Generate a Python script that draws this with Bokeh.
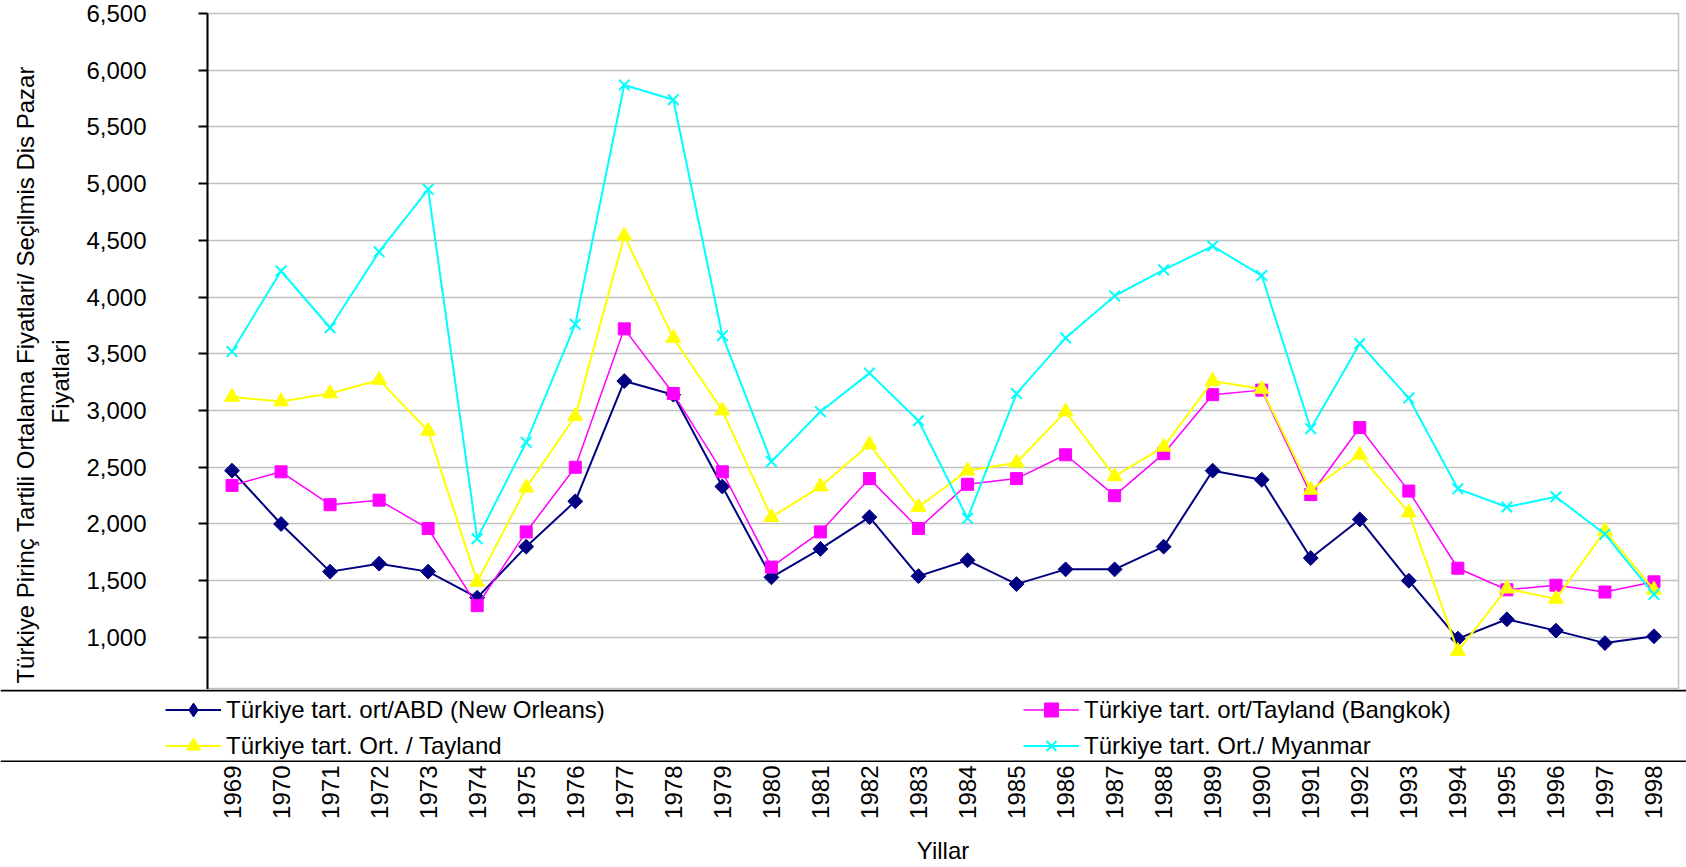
import numpy as np
from bokeh.plotting import figure
from bokeh.layouts import column
from bokeh.models import (Range1d, FactorRange, SingleIntervalTicker, NumeralTickFormatter,
                          Legend, LegendItem, Span)
from bokeh.embed import file_html
from bokeh.resources import INLINE

years = [str(y) for y in range(1969, 1999)]

abd_new_orleans = [2470, 2000, 1580, 1650, 1580, 1350, 1800, 2200, 3260, 3140,
                   2330, 1530, 1780, 2060, 1540, 1680, 1470, 1600, 1600, 1800,
                   2470, 2390, 1700, 2040, 1500, 990, 1160, 1060, 950, 1010]
tayland_bangkok = [2340, 2460, 2170, 2210, 1960, 1280, 1930, 2500, 3720, 3150,
                   2460, 1620, 1930, 2400, 1960, 2350, 2400, 2610, 2250, 2620,
                   3140, 3180, 2260, 2850, 2290, 1610, 1420, 1460, 1400, 1490]
tayland = [3120, 3080, 3150, 3270, 2820, 1490, 2320, 2950, 4540, 3640,
           3000, 2060, 2330, 2700, 2150, 2470, 2540, 2990, 2420, 2680,
           3260, 3190, 2300, 2610, 2100, 880, 1430, 1340, 1940, 1420]
myanmar = [3520, 4230, 3730, 4400, 4950, 1870, 2720, 3760, 5870, 5740,
           3660, 2550, 2990, 3330, 2910, 2050, 3150, 3640, 4010, 4240,
           4450, 4190, 2840, 3590, 3110, 2310, 2150, 2240, 1910, 1380]

series_labels = ["Türkiye tart. ort/ABD (New Orleans)",
                 "Türkiye tart. ort/Tayland (Bangkok)",
                 "Türkiye tart. Ort. / Tayland",
                 "Türkiye tart. Ort./ Myanmar"]

y_title = ("Türkiye Pirinç Tartili Ortalama Fiyatlari/ Seçilmis Dis Pazar" + "\u00a0" * 7
           + "\n" + "Fiyatlari" + "\u00a0" * 9)
x_title = "Yillar"

FONT = "Liberation Sans"
W = 1686
LEFT = 207
RIGHT = 8

styles = [
    dict(color="#000080", marker="square", legend_marker="diamond", size=10.5,
         angle=np.pi / 4, lw=2),
    dict(color="#FF00FF", marker="square", legend_marker="square", size=12, angle=0.0, lw=1.5),
    dict(color="#FFFF00", marker="triangle", legend_marker="triangle", size=15, angle=0.0, lw=2),
    dict(color="#00FFFF", marker="x", legend_marker="x", size=15, angle=0.0, lw=2),
]
series = [abd_new_orleans, tayland_bangkok, tayland, myanmar]


def draw_series(fig, for_legend=False):
    out = []
    for data, st in zip(series, styles):
        lr = fig.line(years, data, line_color=st["color"], line_width=st["lw"])
        mk = st["legend_marker"] if for_legend else st["marker"]
        if mk == "x":
            sr = fig.scatter(years, data, marker="x", size=st["size"], line_color=st["color"],
                             line_width=2)
        else:
            sr = fig.scatter(years, data, marker=mk, size=st["size"],
                             angle=0.0 if for_legend else st["angle"],
                             fill_color=st["color"], line_color=st["color"], line_width=1)
        out.append((lr, sr))
    return out


xr = FactorRange(*years)

# ---------------- main plot ----------------
p = figure(width=W, height=689, x_range=xr, y_range=Range1d(541, 6500),
           output_backend="svg", toolbar_location=None, x_axis_location=None,
           min_border_left=LEFT, min_border_right=RIGHT, min_border_top=13, min_border_bottom=0,
           background_fill_color="white", border_fill_color="white",
           outline_line_color="#c0c0c0", outline_line_width=1.5)
p.xgrid.grid_line_color = None
p.ygrid.grid_line_color = "#c0c0c0"
p.ygrid.grid_line_width = 1.5

ya = p.yaxis[0]
ya.ticker = SingleIntervalTicker(interval=500)
ya.formatter = NumeralTickFormatter(format="0,0")
ya.axis_line_color = "black"
ya.axis_line_width = 2
ya.major_tick_line_color = "black"
ya.major_tick_line_width = 2
ya.major_tick_out = 9
ya.major_tick_in = 0
ya.minor_tick_line_color = None
ya.major_label_standoff = 52
ya.major_label_text_font = FONT
ya.major_label_text_font_size = "24px"
ya.major_label_text_color = "black"
ya.axis_label = y_title
ya.axis_label_text_font = FONT
ya.axis_label_text_font_size = "24px"
ya.axis_label_text_font_style = "normal"
ya.axis_label_text_color = "black"
ya.axis_label_standoff = 9
ya.axis_label_text_line_height = 1.3

draw_series(p)

# ---------------- legend band ----------------
b = figure(width=W, height=73, x_range=FactorRange(*years), y_range=Range1d(0, 73),
           output_backend="svg", toolbar_location=None,
           x_axis_location=None, y_axis_location=None,
           min_border_left=0, min_border_right=0, min_border_top=0, min_border_bottom=0,
           background_fill_color="white", border_fill_color="white", outline_line_color=None)
b.frame_align = False
b.xgrid.grid_line_color = None
b.ygrid.grid_line_color = None
b.add_layout(Span(location=72, dimension="width", line_color="black", line_width=2))
b.add_layout(Span(location=1, dimension="width", line_color="black", line_width=2))

# legend swatches come from the same series (they lie outside this band's visible range)
rends = draw_series(b, for_legend=True)
items = [LegendItem(label=lab, renderers=list(r)) for lab, r in zip(series_labels, rends)]

legend = Legend(items=items, location=(165, -1), orientation="horizontal", ncols=2,
                glyph_width=56, glyph_height=35, label_height=35, label_width=796,
                label_standoff=5, spacing=1, padding=5, margin=0,
                border_line_color=None, background_fill_alpha=0,
                label_text_font=FONT, label_text_font_size="24px", label_text_color="black")
b.add_layout(legend)

# ---------------- category axis ----------------
c = figure(width=W, height=104, x_range=xr, y_range=Range1d(0, 1),
           output_backend="svg", toolbar_location=None, y_axis_location=None,
           min_border_left=LEFT, min_border_right=RIGHT, min_border_top=0, min_border_bottom=0,
           background_fill_color="white", border_fill_color="white", outline_line_color=None)
c.xgrid.grid_line_color = None
c.ygrid.grid_line_color = None
xa = c.xaxis[0]
xa.axis_line_color = None
xa.major_tick_line_color = None
xa.major_tick_out = 0
xa.major_tick_in = 0
xa.minor_tick_line_color = None
xa.major_label_orientation = np.pi / 2
xa.major_label_standoff = 3
xa.major_label_text_font = FONT
xa.major_label_text_font_size = "24px"
xa.major_label_text_color = "black"
xa.axis_label = x_title
xa.axis_label_text_font = FONT
xa.axis_label_text_font_size = "24px"
xa.axis_label_text_font_style = "normal"
xa.axis_label_text_color = "black"
xa.axis_label_standoff = 15

layout = column(p, b, c, spacing=0)
open("out.html", "w").write(file_html(layout, INLINE))
